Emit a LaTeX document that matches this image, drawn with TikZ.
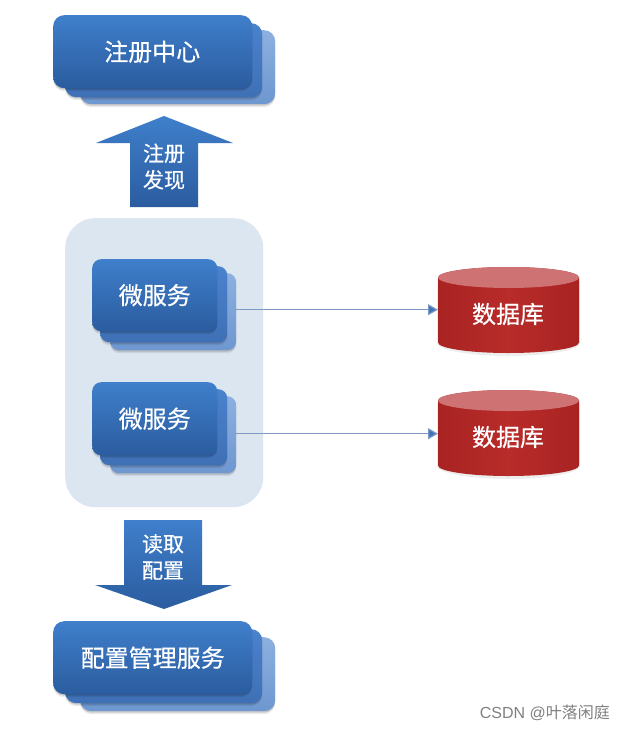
\documentclass[tikz,border=0pt]{standalone}
\usepackage{fontspec}
\setmainfont[FakeBold=0.5]{Noto Sans CJK SC}
\newfontfamily\wmplain{Noto Sans CJK SC}
\newfontfamily\wmfont{Liberation Sans}
\usetikzlibrary{arrows.meta,shadows}
\definecolor{cardtop}{HTML}{3F7FCB}
\definecolor{cardbot}{HTML}{2B5C9F}
\definecolor{midtop}{HTML}{4A82CC}
\definecolor{midbot}{HTML}{3F70B6}
\definecolor{backtop}{HTML}{8DB0E0}
\definecolor{backbot}{HTML}{6E97D0}
\definecolor{panelc}{HTML}{DCE6F1}
\definecolor{linkc}{HTML}{7D98C2}
\definecolor{tipc}{HTML}{3F73B8}
\definecolor{dbedge}{HTML}{A82322}
\definecolor{dbmid}{HTML}{B82C2A}
\definecolor{dbtop}{HTML}{CE7273}
\tikzset{
  softshadow/.style={
    general shadow={fill=black,opacity=.08,shadow yshift=-3pt},
    general shadow={fill=black,opacity=.14,shadow yshift=-1.5pt}},
  cardbase/.style={rectangle,rounded corners=#1,inner sep=0pt,anchor=north west,softshadow},
  cardback/.style={cardbase=#1,top color=backtop,bottom color=backbot},
  cardmid/.style={cardbase=#1,top color=midtop,bottom color=midbot},
  cardfront/.style={cardbase=#1,top color=cardtop,bottom color=cardbot,text=white,font=\fontsize{24}{28}\selectfont},
  arrowshape/.style={top color=cardtop,bottom color=cardbot},
  arrowtext/.style={text=white,font=\fontsize{21}{26.5}\selectfont,align=center,inner sep=0pt},
  dblabel/.style={text=white,font=\fontsize{24}{28}\selectfont,minimum width=141pt,minimum height=86pt,inner sep=0pt,anchor=north west},
  dbtext/.style={text=white,font=\fontsize{24}{28}\selectfont,inner sep=0pt},
  link/.style={draw=linkc,line width=1.2pt,-{Triangle[length=10pt,width=11pt,fill=tipc]}},
  panel/.style={fill=panelc,rounded corners=30pt,inner sep=0pt,anchor=north west},
  watermark/.style={text=black!50,font=\fontsize{16}{19}\selectfont,inner sep=0pt}
}
% \cardnode{style}{radius}{name}{x1}{y1}{x2}{y2}{text}
\newcommand{\cardnode}[8]{%
  \pgfmathsetmacro{\cw}{#6-#4}\pgfmathsetmacro{\ch}{#7-#5}%
  \node[#1=#2pt,minimum width=\cw pt,minimum height=\ch pt] (#3) at (#4,#5) {#8};}
\newcommand{\cylinderat}[2]{%
  \begin{scope}[shift={(438,#2)}]
    \fill[black,opacity=.07] (-1,14) -- (-1,76) .. controls (-1,83) and (31.6,89) .. (70.5,89) .. controls (109.4,89) and (142,83) .. (142,76) -- (142,14) -- cycle;
    \path[left color=dbedge,right color=dbedge,middle color=dbmid] (0,10.5) -- (0,75.5) .. controls (0,81.3) and (31.6,86) .. (70.5,86) .. controls (109.4,86) and (141,81.3) .. (141,75.5) -- (141,10.5) .. controls (141,4.7) and (109.4,0) .. (70.5,0) .. controls (31.6,0) and (0,4.7) .. (0,10.5) -- cycle;
    \fill[dbtop] (0,10.5) .. controls (0,16.3) and (31.6,21) .. (70.5,21) .. controls (109.4,21) and (141,16.3) .. (141,10.5) .. controls (141,4.7) and (109.4,0) .. (70.5,0) .. controls (31.6,0) and (0,4.7) .. (0,10.5) -- cycle;
    \node[dblabel] (#1) at (0,0) {};
  \end{scope}}
\begin{document}
\begin{tikzpicture}[x=1pt,y=-1pt]
\useasboundingbox (0,0) rectangle (625,731);
\fill[white] (0,0) rectangle (625,731);

% panel
\node[panel,minimum width=198pt,minimum height=289pt] (group) at (65,218) {};

% registry
\cardnode{cardback}{11}{regback}{80}{30}{275}{104}{}
\cardnode{cardmid}{11}{regmid}{65}{23}{262}{97}{}
\cardnode{cardfront}{11}{reg}{53}{15}{252}{88}{\kern-1pt注册中心}

% up arrow
\path[arrowshape] (164,116) -- (233,143) -- (198,143) -- (198,207) -- (130,207) -- (130,143) -- (96,143) -- cycle;
\node[arrowtext] (uplabel) at (164,166.5) {注册\\发现};

% services
\cardnode{cardback}{9}{msAback}{110}{273}{236}{350}{}
\cardnode{cardmid}{9}{msAmid}{100}{266}{227}{342}{}
\cardnode{cardfront}{9}{msA}{92}{259}{217}{331}{微服务}
\cardnode{cardback}{9}{msBback}{110}{396}{236}{473}{}
\cardnode{cardmid}{9}{msBmid}{100}{389}{227}{465}{}
\cardnode{cardfront}{9}{msB}{92}{382}{217}{455}{微服务}

% databases
\cylinderat{dbA}{267}
\cylinderat{dbB}{390}
\node[dbtext] (dbAtext) at (508,314) {数据库};
\node[dbtext] (dbBtext) at (508,437) {数据库};

% connectors
\draw[link] (msAback.east) ++(0,-2) coordinate (msAout) -- (msAout -| dbA.west);
\draw[link] (msBback.east) ++(0,-1) coordinate (msBout) -- (msBout -| dbB.west);

% down arrow
\path[arrowshape] (124,520) -- (202,520) -- (202,585) -- (232,585) -- (164,609) -- (95,585) -- (124,585) -- cycle;
\node[arrowtext] (downlabel) at (163,557) {读取\\配置};

% config service
\cardnode{cardback}{11}{cfgback}{80}{637}{275}{711}{}
\cardnode{cardmid}{11}{cfgmid}{65}{629}{262}{703}{}
\cardnode{cardfront}{11}{cfg}{53}{621}{252}{694}{配置管理服务}

% watermark
\node[watermark,anchor=east] (mark) at (610,713) {{\wmfont CSDN @}{\wmplain 叶落闲庭}};
\end{tikzpicture}
\end{document}
